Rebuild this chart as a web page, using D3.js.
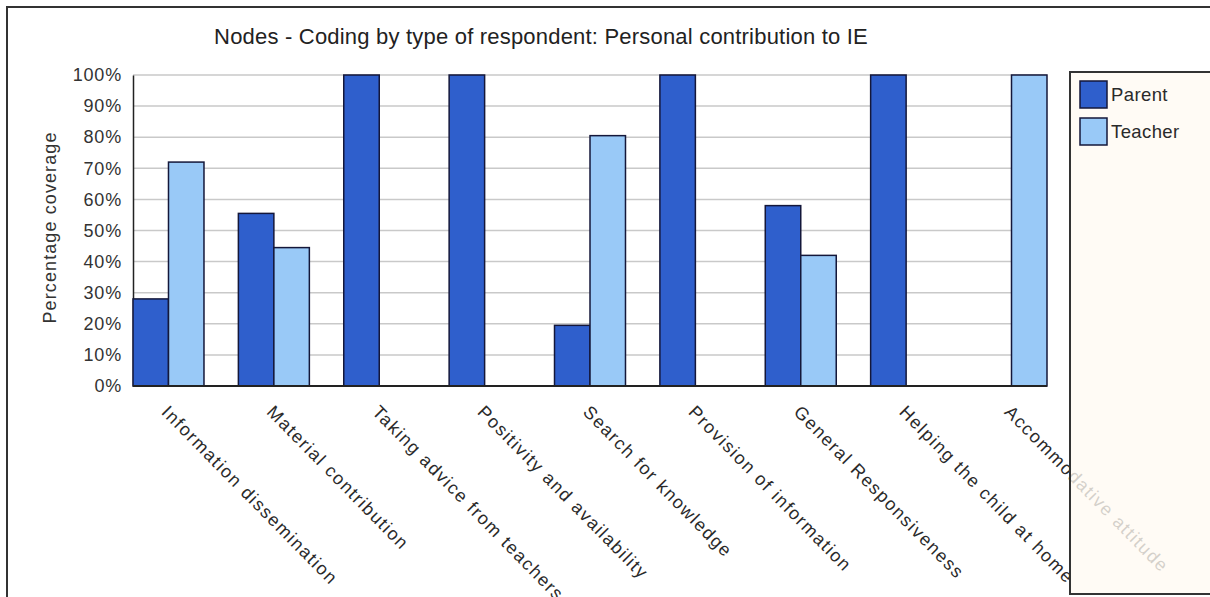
<!DOCTYPE html>
<html>
<head>
<meta charset="utf-8">
<script src="https://cdn.jsdelivr.net/npm/d3@7"></script>
<style>
  html, body { margin: 0; padding: 0; background: #ffffff; }
  svg { display: block; font-family: "Liberation Sans", Arial, sans-serif; }
</style>
</head>
<body>
<svg id="chart" width="1210" height="597"></svg>
<script>
// Coding categories and coverage share per respondent type (%)
const categories = [
  "Information dissemination",
  "Material contribution",
  "Taking advice from teachers",
  "Positivity and availability",
  "Search for knowledge",
  "Provision of information",
  "General Responsiveness",
  "Helping the child at home",
  "Accommodative attitude"
];
const seriesNames = ["Parent", "Teacher"];
const parentValues  = [28, 55.5, 100, 100, 19.5, 100, 58, 100, 0];
const teacherValues = [72, 44.5, 0, 0, 80.5, 0, 42, 0, 100];
const yTicks = [0, 10, 20, 30, 40, 50, 60, 70, 80, 90, 100];
const colors = ["#2f5fcc", "#99c9f7"];

const svg = d3.select("#chart");

// Outer chart frame (runs past the window on the right and bottom)
svg.append("rect")
  .attr("x", 7).attr("y", 7)
  .attr("width", 1260).attr("height", 640)
  .attr("fill", "#ffffff")
  .attr("stroke", "#333333").attr("stroke-width", 2);

const plot = { left: 133, right: 1047, top: 75, bottom: 386 };

const x = d3.scaleBand()
  .domain(categories)
  .range([plot.left, plot.right])
  .paddingInner(0.3264)
  .paddingOuter(0);
const xSub = d3.scaleBand()
  .domain(seriesNames)
  .range([0, x.bandwidth()]);
const y = d3.scaleLinear().domain([0, 100]).range([plot.bottom, plot.top]);

const labelFont = 18;
const labelSpacing = 1.1;

// Title
svg.append("text")
  .attr("x", 541).attr("y", 44)
  .attr("text-anchor", "middle")
  .attr("font-size", 22)
  .attr("letter-spacing", 0.2)
  .attr("fill", "#222")
  .text("Nodes - Coding by type of respondent: Personal contribution to IE");

// Gridlines
svg.append("g")
  .selectAll("line")
  .data(yTicks.filter(d => d > 0))
  .join("line")
  .attr("x1", plot.left).attr("x2", plot.right)
  .attr("y1", d => y(d)).attr("y2", d => y(d))
  .attr("stroke", "#c9c9c9").attr("stroke-width", 1.5);

// Y axis
const yAxis = svg.append("g")
  .attr("transform", `translate(${plot.left},0)`)
  .call(d3.axisLeft(y).tickValues(yTicks).tickFormat(d => d + "%").tickSize(0).tickPadding(11));
yAxis.select(".domain").attr("stroke", "#222").attr("stroke-width", 1.5);
yAxis.selectAll("text")
  .attr("font-size", labelFont)
  .attr("letter-spacing", 0.8)
  .attr("fill", "#333")
  .attr("font-family", "'Liberation Sans', Arial, sans-serif");

svg.append("text")
  .attr("transform", `translate(56,${(plot.top + plot.bottom) / 2 - 3}) rotate(-90)`)
  .attr("text-anchor", "middle")
  .attr("font-size", labelFont)
  .attr("letter-spacing", labelSpacing)
  .attr("fill", "#333")
  .text("Percentage coverage");

// Bars
const rows = categories.map((c, i) => ({ cat: c, values: [parentValues[i], teacherValues[i]] }));
svg.append("g")
  .selectAll("g")
  .data(rows)
  .join("g")
  .attr("transform", d => `translate(${x(d.cat)},0)`)
  .selectAll("rect")
  .data(d => d.values.map((v, k) => ({ name: seriesNames[k], value: v, k })).filter(e => e.value > 0))
  .join("rect")
  .attr("x", d => xSub(d.name))
  .attr("width", xSub.bandwidth())
  .attr("y", d => y(d.value))
  .attr("height", d => y(0) - y(d.value))
  .attr("fill", d => colors[d.k])
  .attr("stroke", "#14173a")
  .attr("stroke-width", 1.5);

// X axis baseline
svg.append("line")
  .attr("x1", plot.left).attr("x2", plot.right)
  .attr("y1", plot.bottom).attr("y2", plot.bottom)
  .attr("stroke", "#222").attr("stroke-width", 1.8);

// Category labels, slanted at 45 degrees
svg.append("g")
  .selectAll("text")
  .data(categories)
  .join("text")
  .attr("transform", d => `translate(${x(d) + x.bandwidth() / 2 - 8},${plot.bottom + 27}) rotate(45.5)`)
  .attr("text-anchor", "start")
  .attr("font-size", labelFont)
  .attr("letter-spacing", 1.5)
  .attr("fill", "#2a2a2a")
  .text(d => d);

// Legend box (translucent, so labels behind it show through faintly)
const legend = svg.append("g");
legend.append("rect")
  .attr("x", 1070).attr("y", 72)
  .attr("width", 160).attr("height", 522)
  .attr("fill", "#fffaf2").attr("fill-opacity", 0.8)
  .attr("stroke", "#333").attr("stroke-width", 2);
const items = legend.selectAll("g.item")
  .data(seriesNames)
  .join("g")
  .attr("class", "item")
  .attr("transform", (d, i) => `translate(1080,${81 + i * 37})`);
items.append("rect")
  .attr("width", 27).attr("height", 27)
  .attr("fill", (d, i) => colors[i])
  .attr("stroke", "#14173a").attr("stroke-width", 1.5);
items.append("text")
  .attr("x", 31).attr("y", 20)
  .attr("font-size", 18.5)
  .attr("letter-spacing", 0.4)
  .attr("fill", "#2a2a2a")
  .text(d => d);
</script>
</body>
</html>
